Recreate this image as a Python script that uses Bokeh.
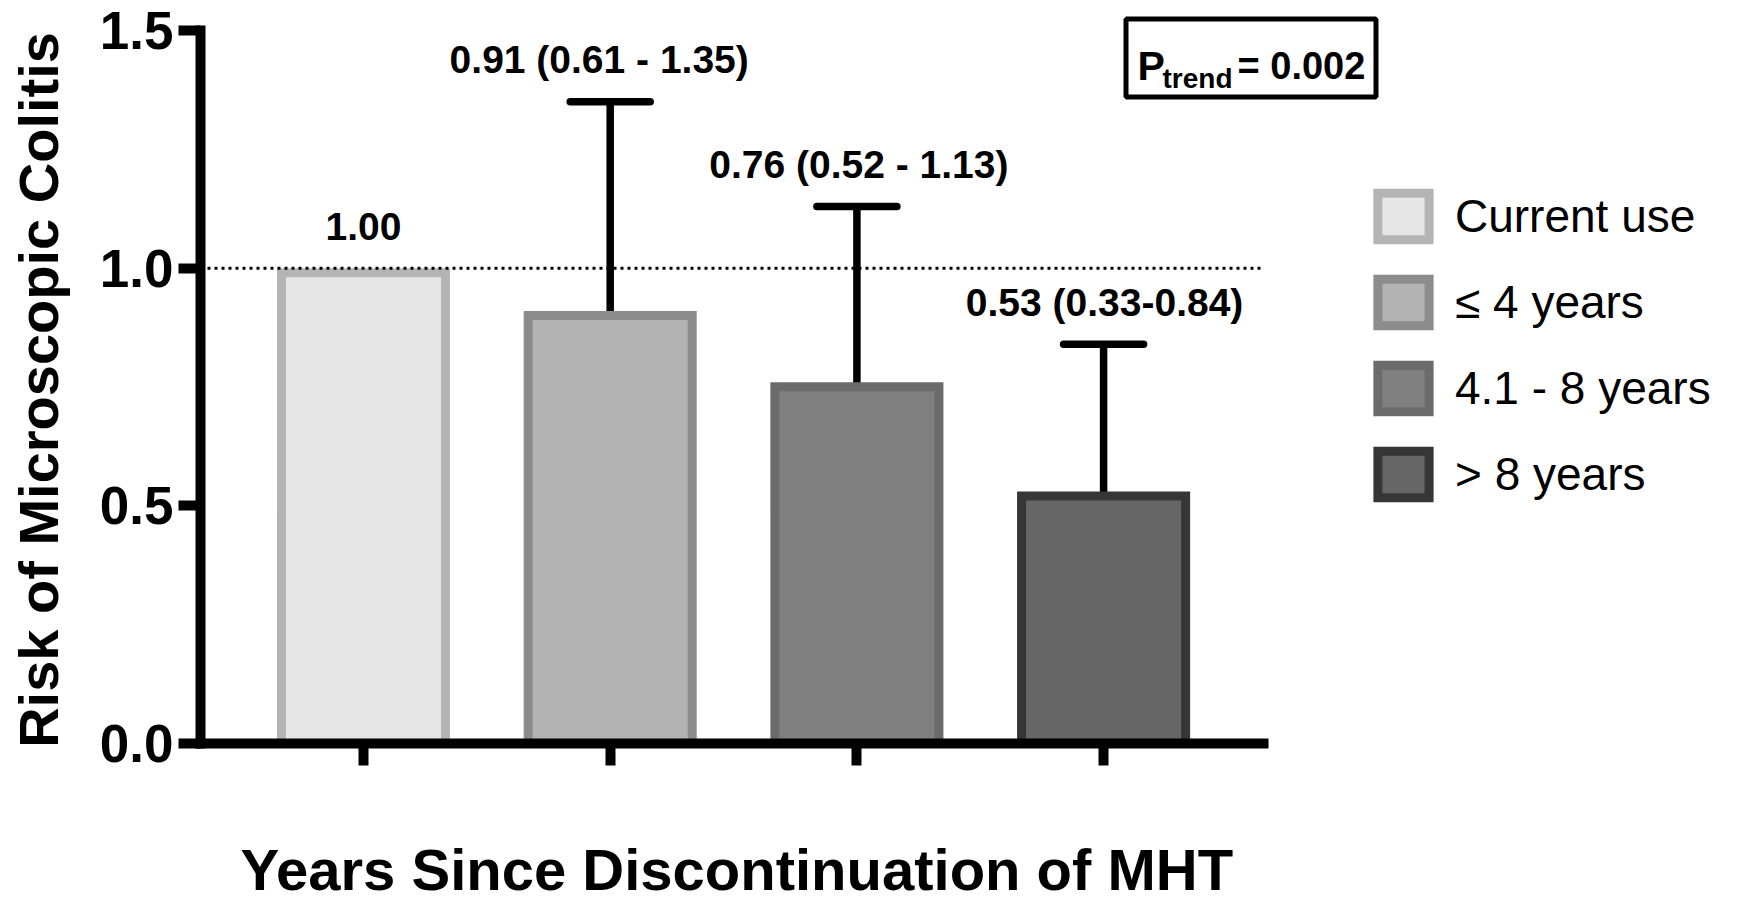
from bokeh.plotting import figure
from bokeh.models import (ColumnDataSource, Range1d, FixedTicker, NumeralTickFormatter,
                          Legend, LegendItem, Whisker, TeeHead, Title)
from bokeh.transform import dodge
from bokeh.core.properties import value
from bokeh.embed import file_html
from bokeh.resources import INLINE

# ---- data -------------------------------------------------------------
groups = ["Current use", "\u2264 4 years", "4.1 - 8 years", "> 8 years"]
risk = [1.00, 0.91, 0.76, 0.53]
ci_lower = [None, 0.61, 0.52, 0.33]
ci_upper = [None, 1.35, 1.13, 0.84]
bar_labels = ["1.00", "0.91 (0.61 - 1.35)", "0.76 (0.52 - 1.13)", "0.53 (0.33-0.84)"]
y_ticks = [0.0, 0.5, 1.0, 1.5]
reference_level = 1.0
p_trend = "= 0.002"

fill_colors = ["#e6e6e6", "#b3b3b3", "#808080", "#666666"]
line_colors = ["#b4b4b4", "#8c8c8c", "#6b6b6b", "#363636"]
label_nudge_px = [0, -11, 2, 1]      # small horizontal nudges of the value labels

# ---- layout (page pixels) ---------------------------------------------
W, H = 1756, 902
FRAME_L, FRAME_R, FRAME_T, FRAME_B = 200, 1750, 8, 743
PX_PER_X = 246.7          # pixels between category centres
PX_PER_Y = 475.3          # pixels per unit of relative risk
FIRST_CENTRE = 363
BAR_STROKE = 9

x_start = -(FIRST_CENTRE - FRAME_L) / PX_PER_X
x_end = x_start + (FRAME_R - FRAME_L) / PX_PER_X
y_end = (FRAME_B - FRAME_T) / PX_PER_Y
x_axis_end = len(groups) - 1 + 0.65


def dx(px):
    return x_start + (px - FRAME_L) / PX_PER_X


def dy(py):
    return (FRAME_B - py) / PX_PER_Y


FONT = value("Liberation Sans")
BLACK = "#000000"

p = figure(width=W, height=H, x_range=Range1d(x_start, x_end), y_range=Range1d(0, y_end),
           output_backend="svg", toolbar_location=None,
           min_border_left=FRAME_L, min_border_right=W - FRAME_R,
           min_border_top=FRAME_T, min_border_bottom=H - FRAME_B)
p.outline_line_color = None
p.xgrid.grid_line_color = None
p.ygrid.grid_line_color = None
p.background_fill_color = "white"
p.border_fill_color = "white"

# ---- bars -------------------------------------------------------------
xs = list(range(len(groups)))
bars_src = ColumnDataSource(dict(x=xs, risk=risk, fill=fill_colors, line=line_colors,
                                 label=bar_labels, nudge=label_nudge_px,
                                 label_y=[u if u is not None else r for u, r in zip(ci_upper, risk)]))
# the outline sits inside the bar, so its outer edge lands on the value
inset = (BAR_STROKE / 2) / PX_PER_Y
bars = p.vbar(x="x", top=dodge("risk", -inset), bottom=0, width=0.665, source=bars_src,
              fill_color="fill", line_color="line", line_width=BAR_STROKE, line_join="miter")

# dotted reference line at RR = 1
p.segment(x0=[x_start], x1=[x_axis_end], y0=[reference_level], y1=[reference_level],
          line_color=BLACK, line_width=3, line_dash="3 4")

# ---- confidence intervals ---------------------------------------------
rows = [i for i in xs if ci_lower[i] is not None]
ci_src = ColumnDataSource(dict(x=[xs[i] for i in rows],
                               lower=[ci_lower[i] for i in rows],
                               upper=[ci_upper[i] for i in rows]))
tee = dict(size=80, line_width=7.5, line_color=BLACK, line_cap="round")
p.add_layout(Whisker(base="x", lower="lower", upper="upper", source=ci_src,
                     dimension="height", line_width=7.5, line_color=BLACK,
                     upper_head=TeeHead(**tee), lower_head=TeeHead(**tee)))

# value labels above each bar / interval
p.text(x="x", y="label_y", text="label", source=bars_src, x_offset="nudge", y_offset=-42,
       text_align="center", text_baseline="alphabetic", text_font=FONT,
       text_font_style="bold", text_font_size="39px", text_color=BLACK)

# ---- P-trend box ------------------------------------------------------
p.quad(left=[dx(1125.5)], right=[dx(1375.5)], top=[dy(18.5)], bottom=[dy(96.5)],
       fill_color="white", line_color=BLACK, line_width=5)
p.text(x=[dx(1137)], y=[dy(65)], text=["P"], text_align="left", text_baseline="alphabetic",
       text_font=FONT, text_font_style="bold", text_font_size="41px", text_color=BLACK)
p.text(x=[dx(1162)], y=[dy(78)], text=["trend"], text_align="left", text_baseline="alphabetic",
       text_font=FONT, text_font_style="bold", text_font_size="28px", text_color=BLACK)
p.text(x=[dx(1237)], y=[dy(65)], text=[p_trend], text_align="left", text_baseline="alphabetic",
       text_font=FONT, text_font_style="bold", text_font_size="38px", text_color=BLACK)

# ---- axes -------------------------------------------------------------
for ax in (p.xaxis[0], p.yaxis[0]):
    ax.axis_line_width = 10
    ax.axis_line_color = BLACK
    ax.axis_line_cap = "square"
    ax.major_tick_line_width = 10
    ax.major_tick_line_color = BLACK
    ax.major_tick_in = 0
    ax.major_tick_out = 22
    ax.minor_tick_line_color = None

p.yaxis.ticker = FixedTicker(ticks=y_ticks)
p.yaxis.formatter = NumeralTickFormatter(format="0.0")
p.yaxis.bounds = (y_ticks[0], y_ticks[-1])
p.yaxis.major_label_standoff = 5
p.yaxis.major_label_text_font = "Liberation Sans"
p.yaxis.major_label_text_font_style = "bold"
p.yaxis.major_label_text_font_size = "53px"
p.yaxis.major_label_text_color = BLACK
# trailing en space keeps the centred title level with the axis span
p.yaxis.axis_label = "Risk of Microscopic Colitis\u2002"
p.yaxis.axis_label_standoff = 27
p.yaxis.axis_label_text_font = "Liberation Sans"
p.yaxis.axis_label_text_font_style = "bold"
p.yaxis.axis_label_text_font_size = "56px"
p.yaxis.axis_label_text_color = BLACK

p.xaxis.ticker = FixedTicker(ticks=xs)
p.xaxis.major_label_overrides = {i: "" for i in xs}
p.xaxis.bounds = (x_start, x_axis_end)
# a blank, tiny axis label whose standoff leaves the gap above the x title
p.xaxis.axis_label = "\u00a0"
p.xaxis.axis_label_text_font_size = "1px"
p.xaxis.axis_label_standoff = 65

# x title, placed in the panel under the axis
p.add_layout(Title(text="Years Since Discontinuation of MHT", align="left", offset=40,
                   vertical_align="bottom", standoff=0,
                   text_font="Liberation Sans", text_font_style="bold",
                   text_font_size="58px", text_color=BLACK), "below")

# ---- legend -----------------------------------------------------------
legend = Legend(items=[LegendItem(label=g, renderers=[bars], index=i) for i, g in enumerate(groups)],
                location=(1171, 240), orientation="vertical",
                glyph_width=64, glyph_height=58, label_height=46,
                label_standoff=20, spacing=28, padding=0, margin=0,
                label_text_font="Liberation Sans", label_text_font_size="46px",
                label_text_color=BLACK, border_line_color=None,
                background_fill_alpha=0)
p.add_layout(legend)

open("out.html", "w").write(file_html(p, INLINE))
